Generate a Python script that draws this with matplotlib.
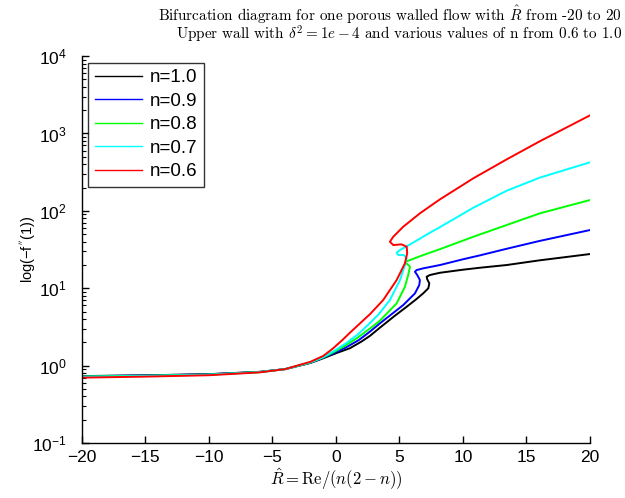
import numpy as np
import matplotlib
matplotlib.use("Agg")
import matplotlib.pyplot as plt
from matplotlib.ticker import LogLocator, FixedLocator

plt.rcParams['font.family'] = ['Liberation Sans', 'DejaVu Sans']
plt.rcParams['mathtext.fontset'] = 'cm'

labels = ["n=1.0", "n=0.9", "n=0.8", "n=0.7", "n=0.6"]
colors = ["#000000", "#0000ff", "#00ff00", "#00ffff", "#ff0000"]

# read points along each branch (R_hat, log10(-f''(1)))
x_n10 = [-20, -15, -10, -6, -4, -2, -1, 0, 1.10, 2.0, 2.68, 3.46, 4.6, 5.57, 6.3, 6.87, 7.27, 7.35, 7.19, 7.14, 7.40, 8.19, 10.02, 11.34, 13.44, 16.0, 20]
y_n10 = [-0.135, -0.125, -0.11, -0.08, -0.045, 0.035, 0.095, 0.16, 0.225, 0.31, 0.385, 0.49, 0.64, 0.761, 0.855, 0.934, 0.999, 1.063, 1.115, 1.149, 1.171, 1.20, 1.240, 1.265, 1.30, 1.36, 1.442]

x_n09 = [-20, -15, -10, -6, -4, -2, -1, 0, 0.84, 1.8, 2.68, 3.46, 4.5, 5.30, 6.22, 6.56, 6.61, 6.40, 6.22, 6.35, 6.87, 8.19, 10.02, 11.34, 13.44, 16.0, 20]
y_n09 = [-0.137, -0.127, -0.112, -0.082, -0.045, 0.038, 0.10, 0.175, 0.24, 0.33, 0.44, 0.546, 0.68, 0.783, 0.934, 1.041, 1.106, 1.171, 1.213, 1.235, 1.257, 1.30, 1.375, 1.425, 1.51, 1.61, 1.752]

x_n08 = [-20, -15, -10, -6, -4, -2, -1, 0, 0.8, 1.7, 2.68, 3.46, 4.78, 5.43, 5.69, 5.83, 5.61, 5.43, 5.51, 5.83, 6.87, 8.19, 10.81, 13.44, 16.06, 20]
y_n08 = [-0.14, -0.13, -0.115, -0.083, -0.045, 0.04, 0.105, 0.19, 0.265, 0.36, 0.48, 0.58, 0.805, 1.019, 1.171, 1.278, 1.313, 1.322, 1.343, 1.364, 1.429, 1.505, 1.665, 1.817, 1.968, 2.14]

x_n07 = [-20, -15, -10, -6, -4, -2, -1, 0, 0.8, 1.7, 2.68, 3.4, 4.25, 5.04, 5.43, 5.57, 5.35, 4.91, 4.78, 5.04, 6.09, 7.0, 8.19, 10.81, 13.44, 16.06, 20]
y_n07 = [-0.145, -0.134, -0.118, -0.084, -0.045, 0.043, 0.11, 0.205, 0.29, 0.40, 0.55, 0.67, 0.848, 1.106, 1.30, 1.386, 1.429, 1.429, 1.459, 1.494, 1.59, 1.68, 1.79, 2.04, 2.26, 2.43, 2.627]

x_n06 = [-20, -15, -10, -6, -4, -2, -1, -0.21, 0.5, 1.10, 2.15, 2.68, 3.72, 4.78, 5.43, 5.61, 5.57, 5.17, 4.51, 4.25, 4.51, 5.30, 6.61, 8.19, 10.81, 13.44, 16.06, 20]
y_n06 = [-0.155, -0.142, -0.124, -0.087, -0.045, 0.05, 0.125, 0.225, 0.33, 0.425, 0.585, 0.665, 0.848, 1.106, 1.322, 1.451, 1.536, 1.567, 1.558, 1.601, 1.665, 1.795, 1.968, 2.149, 2.42, 2.665, 2.90, 3.234]

series_x = [x_n10, x_n09, x_n08, x_n07, x_n06]
series_y = [y_n10, y_n09, y_n08, y_n07, y_n06]

xticks = [-20, -15, -10, -5, 0, 5, 10, 15, 20]
xticklabels = ['\u221220', '\u221215', '\u221210', '\u22125', '0', '5', '10', '15', '20']

fig = plt.figure(figsize=(6.25, 4.98), dpi=100)
ax = fig.add_axes([0.131, 0.1104, 0.813, 0.777])

for xs, ys, c, lab in zip(series_x, series_y, colors, labels):
    ax.semilogy(xs, 10.0 ** np.array(ys), color=c, lw=1.4, label=lab)

ax.set_xlim(-20, 20)
ax.set_ylim(1e-1, 1e4)
ax.xaxis.set_major_locator(FixedLocator(xticks))
ax.yaxis.set_major_locator(LogLocator(base=10, numticks=10))
ax.yaxis.set_minor_locator(LogLocator(base=10, subs=np.arange(2, 10), numticks=20))

for s in ['top', 'right']:
    ax.spines[s].set_visible(False)
for s in ['left', 'bottom']:
    ax.spines[s].set_linewidth(1.0)

ax.tick_params(which='major', direction='in', length=5, width=1.0, labelsize=12.5)
ax.tick_params(axis='x', which='major', pad=5)
ax.tick_params(axis='y', which='major', pad=11)
ax.tick_params(which='minor', direction='in', length=3, width=0.8)
ax.xaxis.set_tick_params(which='both', top=False)
ax.yaxis.set_tick_params(which='both', right=False)

ax.set_xticklabels(xticklabels)

ax.set_ylabel("log(\u2212f$^{''}$(1))", fontsize=10.5)
ax.yaxis.set_label_coords(-0.086, 0.5)
ax.set_xlabel(r"$\hat{R} = \mathrm{Re}/(n(2-n))$", fontsize=12, labelpad=1)

fig.text(0.995, 0.992,
         "Bifurcation diagram for one porous walled flow with $\\hat{R}$ from -20 to 20\n"
         "Upper wall with $\\delta^2 = 1e-4$ and various values of n from 0.6 to 1.0",
         ha='right', va='top', multialignment='right', linespacing=0.88,
         fontsize=10.9, family='cmr10')

leg = ax.legend(loc='upper left', fontsize=13.5, frameon=True, fancybox=False,
                borderaxespad=0.35, handlelength=2.5, labelspacing=0.34,
                borderpad=0.35, handletextpad=0.4)
leg.get_frame().set_edgecolor('black')
leg.get_frame().set_linewidth(1.0)
for l in leg.get_lines():
    l.set_linewidth(1.0)

fig.savefig("out.png", dpi=100)
